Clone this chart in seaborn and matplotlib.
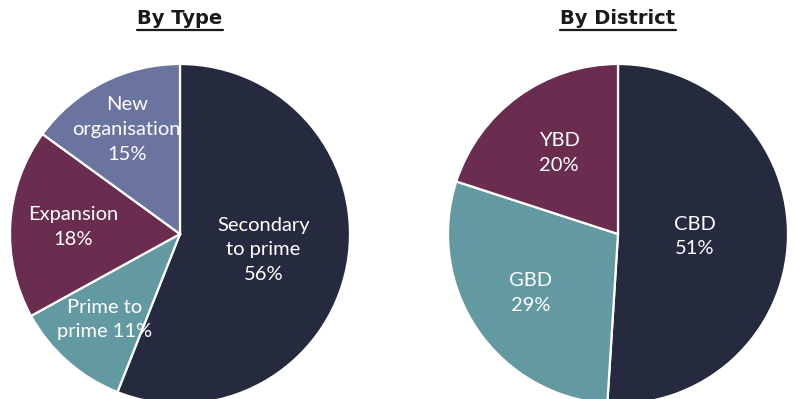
import matplotlib
matplotlib.use("Agg")
import matplotlib.pyplot as plt
import seaborn as sns
import numpy as np
from matplotlib.lines import Line2D

# Data
type_labels = ["Secondary\nto prime", "Prime to\nprime", "Expansion", "New\norganisation"]
type_values = [56, 11, 18, 15]
type_text = ["Secondary\nto prime\n56%", "Prime to\nprime 11%", "Expansion\n18%", "New\norganisation\n15%"]
district_labels = ["CBD", "GBD", "YBD"]
district_values = [51, 29, 20]
district_text = ["CBD\n51%", "GBD\n29%", "YBD\n20%"]

type_colors = ["#262a3e", "#6399a0", "#6b2d4f", "#6b749f"]
district_colors = ["#262a3e", "#6399a0", "#6b2d4f"]

type_label_r = [0.50, 0.67, 0.63, 0.69]
district_label_r = [0.45, 0.62, 0.59]

sns.set_theme(style="white")
plt.rcParams['font.family'] = ['Lato', 'DejaVu Sans']

W, H = 795, 399
fig = plt.figure(figsize=(W / 100, H / 100), dpi=100)
fig.patch.set_facecolor("white")


def make_pie(cx, cy, r, values, colors, texts, radii, title):
    ax = fig.add_axes([(cx - r) / W, (H - cy - r) / H, 2 * r / W, 2 * r / H])
    wedges, _ = ax.pie(values, colors=sns.color_palette(colors), startangle=90,
                       counterclock=False, radius=1,
                       wedgeprops=dict(edgecolor="white", linewidth=1.6))
    for w, t, rr in zip(wedges, texts, radii):
        mid = np.deg2rad((w.theta1 + w.theta2) / 2)
        ax.text(rr * np.cos(mid), rr * np.sin(mid), t, ha="center", va="center",
                color="white", fontsize=14.5, linespacing=1.55)
    ax.set_xlim(-1, 1)
    ax.set_ylim(-1, 1)
    ax.set_aspect("equal")
    ax.axis("off")
    # title with underline
    txt = fig.text(cx / W, 1 - 19 / H, title, ha="center", va="center",
                   fontsize=14, fontweight="heavy", family="DejaVu Sans", color="#1a1a1a")
    fig.canvas.draw()
    bb = txt.get_window_extent()
    y = 1 - 29.5 / H
    fig.add_artist(Line2D([bb.x0 / W, bb.x1 / W], [y, y], transform=fig.transFigure,
                          color="#1a1a1a", linewidth=1.6))
    return ax


make_pie(180, 234, 170, type_values, type_colors, type_text, type_label_r, "By Type")
make_pie(618, 234, 170, district_values, district_colors, district_text, district_label_r, "By District")

fig.savefig("out.png", dpi=100)
